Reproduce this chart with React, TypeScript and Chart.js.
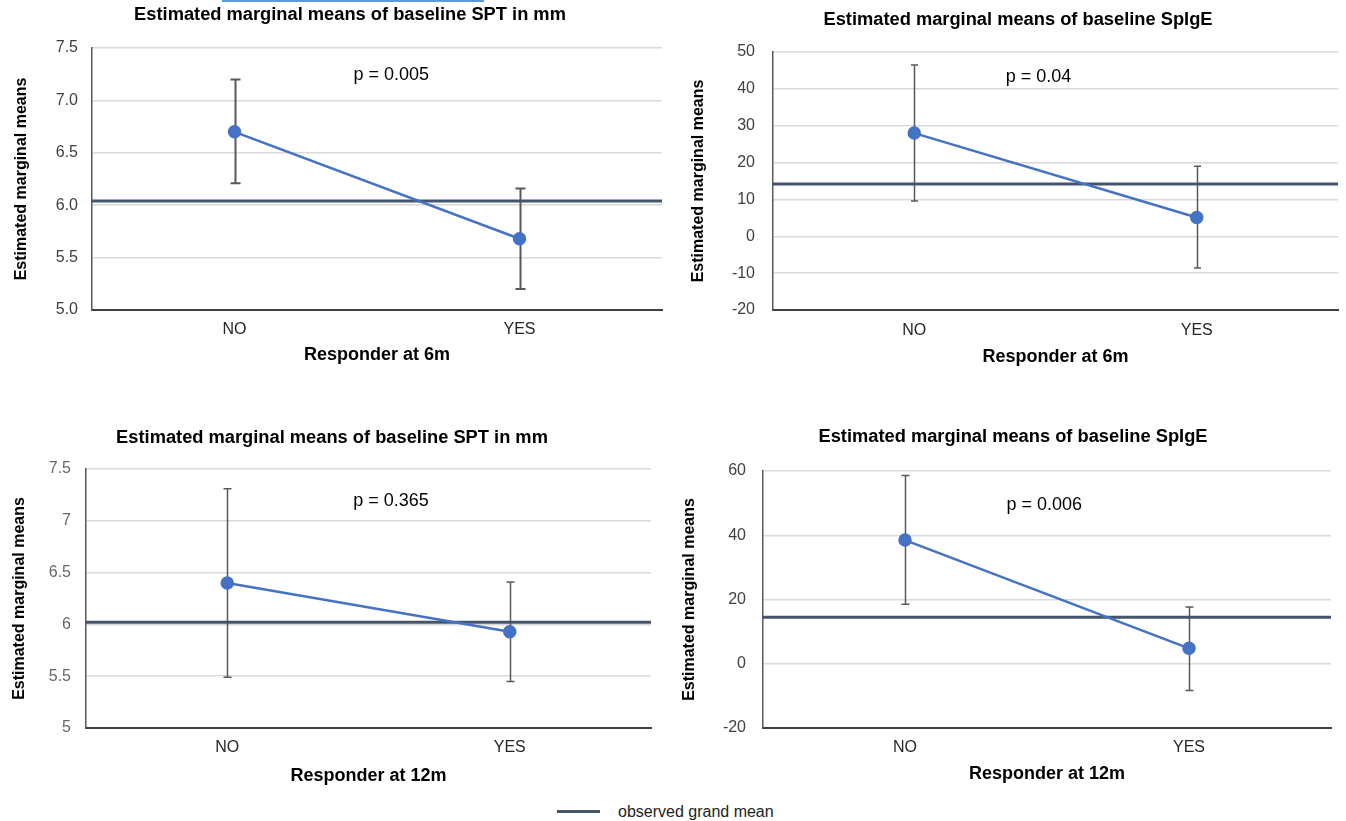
import React, { useEffect, useRef } from "react";
import { Chart, registerables } from "chart.js";

Chart.register(...registerables);

const FONT = "'Liberation Sans', Arial, Helvetica, sans-serif";

// ---------- data ----------
const categories = ["NO", "YES"];

const spt6Means = [6.7, 5.68];
const spt6Lower = [6.21, 5.2];
const spt6Upper = [7.2, 6.16];
const spt6Grand = 6.04;

const sige6Means = [28.0, 5.1];
const sige6Lower = [9.6, -8.6];
const sige6Upper = [46.5, 19.0];
const sige6Grand = 14.2;

const spt12Means = [6.4, 5.93];
const spt12Lower = [5.49, 5.45];
const spt12Upper = [7.31, 6.41];
const spt12Grand = 6.02;

const sige12Means = [38.5, 4.8];
const sige12Lower = [18.5, -8.3];
const sige12Upper = [58.6, 17.7];
const sige12Grand = 14.5;

const titleSpt = "Estimated marginal means of baseline SPT in mm";
const titleSige = "Estimated marginal means of baseline SpIgE";
const yTitle = "Estimated marginal means";
const xTitle6 = "Responder at 6m";
const xTitle12 = "Responder at 12m";
const pLabels = ["p = 0.005", "p = 0.04", "p = 0.365", "p = 0.006"];
const legendLabel = "observed grand mean";

// ---------- plugin ----------
const emmPlugin = {
  id: "emm",
  beforeDatasetsDraw(chart: any, _args: any, opts: any) {
    const { ctx, chartArea } = chart;
    const x = chart.scales.x;
    const y = chart.scales.y;
    ctx.save();
    // error bars
    ctx.strokeStyle = "#595959";
    ctx.lineWidth = opts.barWidth;
    opts.lower.forEach((lo: number, i: number) => {
      const px = Math.round(x.getPixelForValue(i)) + 0.5;
      const y1 = y.getPixelForValue(lo);
      const y2 = y.getPixelForValue(opts.upper[i]);
      ctx.beginPath();
      ctx.moveTo(px, y1);
      ctx.lineTo(px, y2);
      ctx.moveTo(px - opts.cap, y1);
      ctx.lineTo(px + opts.cap, y1);
      ctx.moveTo(px - opts.cap, y2);
      ctx.lineTo(px + opts.cap, y2);
      ctx.stroke();
    });
    // grand mean
    const gy = y.getPixelForValue(opts.grand);
    ctx.strokeStyle = "#44546A";
    ctx.lineWidth = 3;
    ctx.beginPath();
    ctx.moveTo(chartArea.left, gy);
    ctx.lineTo(chartArea.right, gy);
    ctx.stroke();
    // p value label
    const x0 = x.getPixelForValue(0);
    const x1 = x.getPixelForValue(1);
    ctx.fillStyle = "#000";
    ctx.font = `18px ${FONT}`;
    ctx.textAlign = "center";
    ctx.textBaseline = "middle";
    ctx.fillText(opts.pText, x0 + (x1 - x0) * opts.pT, y.getPixelForValue(opts.pY));
    ctx.restore();
  },
  afterDraw(chart: any, _args: any, opts: any) {
    const { ctx } = chart;
    ctx.save();
    ctx.fillStyle = "#000";
    ctx.font = `bold 18.3px ${FONT}`;
    ctx.textAlign = "center";
    ctx.textBaseline = "middle";
    ctx.fillText(opts.title, opts.titleX, opts.titleY);
    ctx.restore();
  },
};

type Spec = {
  left: number;
  top: number;
  width: number;
  height: number;
  title: string;
  titleX: number;
  xTitle: string;
  means: number[];
  lower: number[];
  upper: number[];
  grand: number;
  min: number;
  max: number;
  step: number;
  fixed: boolean;
  tickColor: string;
  pText: string;
  pT: number;
  pY: number;
  yWidth: number;
  yTickPad: number;
  yTitlePad: number;
  titleTop: number;
  titleBottom: number;
  padRight: number;
  xHeight: number;
  xTickPad: number;
  xTitlePad: number;
  cap: number;
  barWidth: number;
  pointR: number;
};

function EmmChart({ spec }: { spec: Spec }) {
  const ref = useRef<HTMLCanvasElement | null>(null);
  useEffect(() => {
    if (!ref.current) return;
    const s = spec;
    const chart = new Chart(ref.current, {
      type: "line",
      data: {
        labels: categories,
        datasets: [
          {
            data: s.means,
            borderColor: "#4472C4",
            backgroundColor: "#4472C4",
            borderWidth: 2.5,
            pointRadius: s.pointR,
            pointHoverRadius: s.pointR,
            pointBackgroundColor: "#4472C4",
            pointBorderColor: "#4472C4",
            tension: 0,
          },
        ],
      },
      options: {
        responsive: false,
        animation: false,
        devicePixelRatio: 1,
        layout: { padding: { left: 0, right: s.padRight, top: 0, bottom: 0 } },
        plugins: {
          legend: { display: false },
          tooltip: { enabled: false },
          title: {
            display: true,
            text: s.title,
            color: "rgba(0,0,0,0)",
            font: { family: FONT, size: 18, weight: "bold" },
            padding: { top: s.titleTop, bottom: s.titleBottom },
          },
          emm: {
            lower: s.lower,
            upper: s.upper,
            grand: s.grand,
            pText: s.pText,
            pT: s.pT,
            pY: s.pY,
            cap: s.cap,
            barWidth: s.barWidth,
            title: s.title,
            titleX: s.titleX,
            titleY: s.titleTop + 10.8,
          },
        } as any,
        scales: {
          x: {
            type: "category",
            offset: true,
            grid: { display: false, drawTicks: false },
            border: { display: true, color: "#404040", width: 2 },
            ticks: {
              color: "#262626",
              padding: s.xTickPad,
              font: { family: FONT, size: 16 },
            },
            title: {
              display: true,
              text: s.xTitle,
              color: "#000",
              font: { family: FONT, size: 18, weight: "bold" },
              padding: { top: 0, bottom: s.xTitlePad },
            },
            afterFit: (scale: any) => {
              scale.height = s.xHeight;
            },
          },
          y: {
            type: "linear",
            min: s.min,
            max: s.max,
            grid: {
              color: "#d9d9d9",
              lineWidth: 1.5,
              drawTicks: false,
            },
            border: { display: true, color: "#595959", width: 1.5 },
            ticks: {
              stepSize: s.step,
              color: s.tickColor,
              padding: s.yTickPad,
              font: { family: FONT, size: 16 },
              callback: (v: any) => (s.fixed ? Number(v).toFixed(1) : String(v)),
            },
            title: {
              display: true,
              text: yTitle,
              color: "#000",
              font: { family: FONT, size: 16, weight: "bold" },
              padding: { top: s.yTitlePad, bottom: 0 },
            },
            afterFit: (scale: any) => {
              scale.width = s.yWidth;
            },
          },
        },
      },
      plugins: [emmPlugin],
    } as any);
    return () => chart.destroy();
  }, [spec]);
  return (
    <canvas
      ref={ref}
      width={spec.width}
      height={spec.height}
      style={{
        position: "absolute",
        left: spec.left,
        top: spec.top,
        width: spec.width,
        height: spec.height,
      }}
    />
  );
}

const specs: Spec[] = [
  {
    left: 0, top: 0, width: 670, height: 375,
    title: titleSpt, titleX: 350, xTitle: xTitle6,
    means: spt6Means, lower: spt6Lower, upper: spt6Upper, grand: spt6Grand,
    min: 5, max: 7.5, step: 0.5, fixed: true, tickColor: "#404040",
    pText: pLabels[0], pT: 0.55, pY: 7.24,
    yWidth: 92, yTickPad: 14, yTitlePad: 12.4,
    titleTop: 4, titleBottom: 22.4, padRight: 8,
    xHeight: 65, xTickPad: 10.4, xTitlePad: 9.2,
    cap: 5, barWidth: 2, pointR: 5.5,
  },
  {
    left: 676, top: 0, width: 670, height: 375,
    title: titleSige, titleX: 342, xTitle: xTitle6,
    means: sige6Means, lower: sige6Lower, upper: sige6Upper, grand: sige6Grand,
    min: -20, max: 50, step: 10, fixed: false, tickColor: "#404040",
    pText: pLabels[1], pT: 0.44, pY: 43.2,
    yWidth: 97, yTickPad: 18, yTitlePad: 13.4,
    titleTop: 9, titleBottom: 21.4, padRight: 7,
    xHeight: 65, xTickPad: 11.4, xTitlePad: 7.2,
    cap: 3.5, barWidth: 1.5, pointR: 5.5,
  },
  {
    left: 0, top: 420, width: 670, height: 375,
    title: titleSpt, titleX: 332, xTitle: xTitle12,
    means: spt12Means, lower: spt12Lower, upper: spt12Upper, grand: spt12Grand,
    min: 5, max: 7.5, step: 0.5, fixed: false, tickColor: "#666666",
    pText: pLabels[2], pT: 0.58, pY: 7.19,
    yWidth: 86, yTickPad: 15, yTitlePad: 10.4,
    titleTop: 7.2, titleBottom: 20.2, padRight: 19,
    xHeight: 67, xTickPad: 10.4, xTitlePad: 8.2,
    cap: 4, barWidth: 1.5, pointR: 5.5,
  },
  {
    left: 670, top: 420, width: 676, height: 375,
    title: titleSige, titleX: 343, xTitle: xTitle12,
    means: sige12Means, lower: sige12Lower, upper: sige12Upper, grand: sige12Grand,
    min: -20, max: 60, step: 20, fixed: false, tickColor: "#404040",
    pText: pLabels[3], pT: 0.49, pY: 49.4,
    yWidth: 93, yTickPad: 17, yTitlePad: 9.9,
    titleTop: 6.2, titleBottom: 23.2, padRight: 15,
    xHeight: 67, xTickPad: 10.4, xTitlePad: 10.2,
    cap: 4, barWidth: 1.5, pointR: 5.5,
  },
];

export default function App() {
  return (
    <div
      style={{
        position: "absolute",
        left: 0,
        top: 0,
        width: 1346,
        height: 821,
        background: "#fff",
        overflow: "hidden",
      }}
    >
      <div
        style={{
          position: "absolute",
          left: 222,
          top: 0,
          width: 262,
          height: 2,
          background: "#5B9BD5",
        }}
      />
      {specs.map((s, i) => (
        <EmmChart key={i} spec={s} />
      ))}
      <div
        style={{
          position: "absolute",
          left: 557,
          top: 810,
          width: 43,
          height: 3,
          background: "#44546A",
        }}
      />
      <div
        style={{
          position: "absolute",
          left: 618,
          top: 802,
          fontFamily: FONT,
          fontSize: 16,
          lineHeight: "20px",
          color: "#222",
          whiteSpace: "nowrap",
        }}
      >
        {legendLabel}
      </div>
    </div>
  );
}
